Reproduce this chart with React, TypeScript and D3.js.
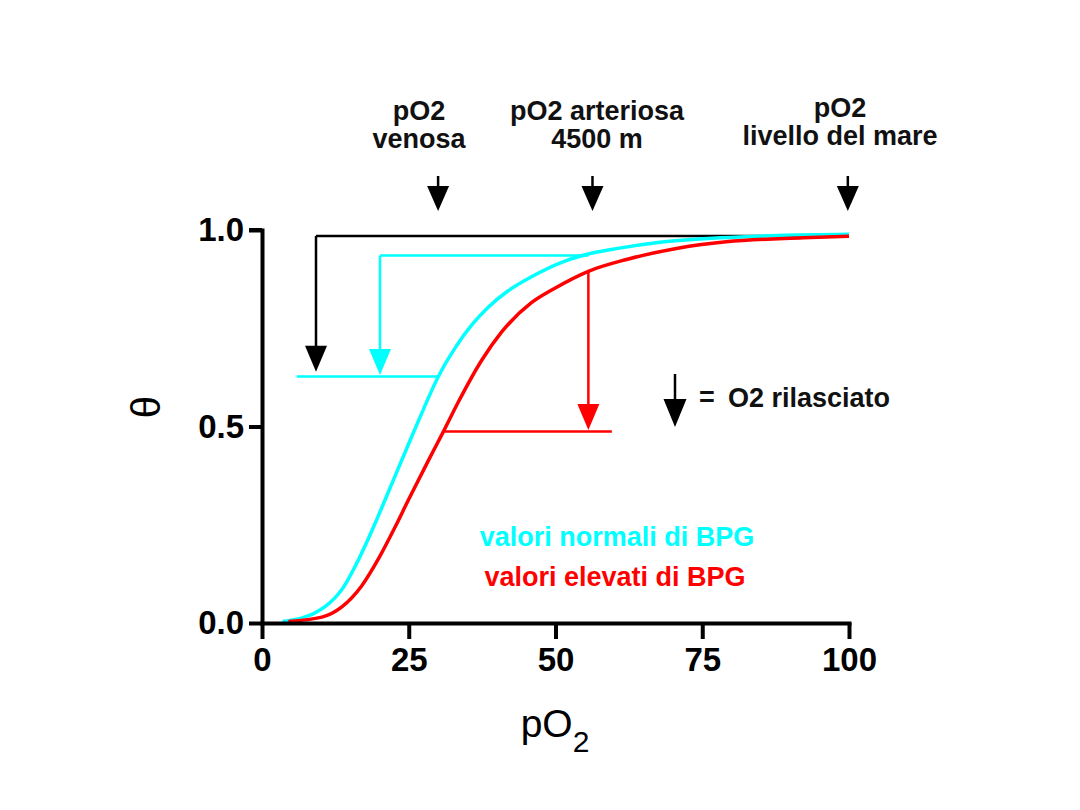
import React, { useRef, useEffect } from 'react';
import * as d3 from 'd3';

// curva di saturazione, valori normali di BPG (ciano)
const normPO2 = [3.5, 6.8, 8.8, 10.8, 13.6, 16.5, 18.7, 21.6, 23.8, 26.7, 30.0, 32.9, 35.7, 38.5, 42.0, 45.9, 51.6, 55.6, 60.1, 67.8, 78, 88, 100];
const normTheta = [0.004, 0.013, 0.024, 0.042, 0.085, 0.163, 0.234, 0.336, 0.414, 0.516, 0.626, 0.7, 0.758, 0.803, 0.846, 0.881, 0.921, 0.939, 0.952, 0.969, 0.98, 0.986, 0.989];

// valori elevati di BPG (rosso)
const highPO2 = [4.5, 10.2, 13.6, 17.0, 19.9, 22.7, 25.0, 28.4, 30.9, 33.4, 37.4, 40.8, 45.9, 49.9, 55.6, 62.1, 70.6, 79.1, 92.2, 100];
const highTheta = [0.004, 0.015, 0.041, 0.095, 0.165, 0.245, 0.315, 0.415, 0.487, 0.561, 0.668, 0.74, 0.815, 0.852, 0.895, 0.925, 0.953, 0.97, 0.98, 0.984];

const xTicks = [0, 25, 50, 75, 100];
const yTicks = [0, 0.5, 1.0];

// frecce in alto: posizione pO2 ed etichette
const topArrowPO2 = [30, 56.3, 99.8];
const topLabels = [
  ['pO2', 'venosa'],
  ['pO2 arteriosa', '4500 m'],
  ['pO2', 'livello del mare'],
];

// frecce O2 rilasciato: [pO2, theta inizio, theta punta]
const blackArrow = [9.2, 0.985, 0.639];
const cyanArrow = [20.1, 0.935, 0.631];
const redArrow = [55.6, 0.895, 0.491];

// linee orizzontali: [pO2 da, pO2 a, theta]
const blackTop = [9.2, 99.8, 0.985];
const cyanTop = [20.1, 55.6, 0.935];
const cyanLow = [5.9, 30.0, 0.627];
const redLow = [30.9, 59.6, 0.487];

const legendLabels = ['valori normali di BPG', 'valori elevati di BPG'];

const FONT = '"Liberation Sans", Arial, sans-serif';
const CYAN = '#00FFFF';
const RED = '#FF0000';

function drawChart(svg: d3.Selection<SVGSVGElement, unknown, null, undefined>) {
  svg.selectAll('*').remove();

  const x = d3.scaleLinear().domain([0, 100]).range([262, 849]);
  const y = d3.scaleLinear().domain([0, 1]).range([623, 230]);

  svg.append('rect').attr('width', 1080).attr('height', 810).attr('fill', 'white');

  // triangolo della freccia con punta in (px, py)
  const head = (px: number, py: number, w: number, h: number) =>
    `M${px - w / 2},${py - h} L${px + w / 2},${py - h} L${px},${py} Z`;

  const arrow = (a: number[], color: string) => {
    const px = x(a[0]);
    const tip = y(a[2]);
    svg.append('line')
      .attr('x1', px).attr('x2', px)
      .attr('y1', y(a[1])).attr('y2', tip - 10)
      .attr('stroke', color).attr('stroke-width', 2.5);
    svg.append('path').attr('d', head(px, tip, 22, 26)).attr('fill', color);
  };

  const hline = (h: number[], color: string) => {
    svg.append('line')
      .attr('x1', x(h[0])).attr('x2', x(h[1]))
      .attr('y1', y(h[2])).attr('y2', y(h[2]))
      .attr('stroke', color).attr('stroke-width', 2.5);
  };

  hline(blackTop, 'black');
  hline(cyanTop, CYAN);
  hline(cyanLow, CYAN);
  hline(redLow, RED);

  // curve
  const line = d3.line<[number, number]>()
    .x(d => x(d[0]))
    .y(d => y(d[1]))
    .curve(d3.curveMonotoneX);

  const normData = normPO2.map((p, i) => [p, normTheta[i]] as [number, number]);
  const highData = highPO2.map((p, i) => [p, highTheta[i]] as [number, number]);

  svg.append('path').attr('d', line(normData)).attr('fill', 'none')
    .attr('stroke', CYAN).attr('stroke-width', 3.5);
  svg.append('path').attr('d', line(highData)).attr('fill', 'none')
    .attr('stroke', RED).attr('stroke-width', 3.5);

  arrow(blackArrow, 'black');
  arrow(cyanArrow, CYAN);
  arrow(redArrow, RED);

  // assi
  const xAxis = d3.axisBottom(x).tickValues(xTicks).tickSize(16).tickSizeOuter(0).tickPadding(9)
    .tickFormat(d => `${d}`);
  const yAxis = d3.axisLeft(y).tickValues(yTicks).tickSize(13).tickSizeOuter(0).tickPadding(5)
    .tickFormat(d3.format('.1f'));

  const gx = svg.append('g').attr('transform', `translate(0, ${y(0)})`).call(xAxis);
  const gy = svg.append('g').attr('transform', `translate(${x(0)}, 0)`).call(yAxis);

  [gx, gy].forEach(g => {
    g.select('.domain').attr('stroke-width', 4).attr('stroke-linecap', 'square');
    g.selectAll('.tick line').attr('stroke-width', 4);
    g.selectAll('.tick text')
      .attr('font-family', FONT)
      .attr('font-size', 33)
      .attr('font-weight', 'bold')
      .attr('fill', 'black');
  });
  // angolo in alto dell'asse y
  gy.append('line').attr('x1', -13).attr('x2', 0).attr('y1', y(1)).attr('y2', y(1))
    .attr('stroke', 'black').attr('stroke-width', 4);

  // titolo asse x
  const xt = svg.append('text')
    .attr('x', 555).attr('y', 737)
    .attr('text-anchor', 'middle')
    .attr('font-family', FONT)
    .attr('font-size', 39)
    .attr('fill', 'black');
  xt.append('tspan').text('pO');
  xt.append('tspan').attr('font-size', 30).attr('dy', 15).text('2');

  // titolo asse y
  svg.append('text')
    .attr('transform', 'translate(146, 407) rotate(-90)')
    .attr('text-anchor', 'middle')
    .attr('dominant-baseline', 'central')
    .attr('font-family', FONT)
    .attr('font-size', 40)
    .attr('fill', 'black')
    .text('θ');

  // frecce ed etichette in alto
  const labelCx = [419, 597, 840];
  const labelY = [[120, 148], [120, 148], [117, 145]];
  topArrowPO2.forEach((p, i) => {
    const px = x(p);
    svg.append('line').attr('x1', px).attr('x2', px).attr('y1', 176).attr('y2', 195)
      .attr('stroke', 'black').attr('stroke-width', 2.5);
    svg.append('path').attr('d', head(px, 211, 22, 25)).attr('fill', 'black');
    topLabels[i].forEach((t, j) => {
      svg.append('text')
        .attr('x', labelCx[i]).attr('y', labelY[i][j])
        .attr('text-anchor', 'middle')
        .attr('font-family', FONT)
        .attr('font-size', 27)
        .attr('font-weight', 'bold')
        .attr('fill', '#111')
        .text(t);
    });
  });

  // legenda freccia
  svg.append('line').attr('x1', 675).attr('x2', 675).attr('y1', 374).attr('y2', 410)
    .attr('stroke', 'black').attr('stroke-width', 2.5);
  svg.append('path').attr('d', head(675, 427, 23, 28)).attr('fill', 'black');
  svg.append('text').attr('x', 699).attr('y', 406)
    .attr('font-family', FONT).attr('font-size', 27).attr('font-weight', 'bold')
    .attr('fill', '#111').text('=');
  svg.append('text').attr('x', 728).attr('y', 407)
    .attr('font-family', FONT).attr('font-size', 27).attr('font-weight', 'bold')
    .attr('fill', '#111').text('O2 rilasciato');

  // legenda curve
  svg.append('text').attr('x', 617).attr('y', 546).attr('text-anchor', 'middle')
    .attr('font-family', FONT).attr('font-size', 27).attr('font-weight', 'bold')
    .attr('fill', CYAN).text(legendLabels[0]);
  svg.append('text').attr('x', 615).attr('y', 586).attr('text-anchor', 'middle')
    .attr('font-family', FONT).attr('font-size', 27).attr('font-weight', 'bold')
    .attr('fill', RED).text(legendLabels[1]);
}

export default function App() {
  const ref = useRef<SVGSVGElement>(null);

  useEffect(() => {
    if (ref.current) {
      drawChart(d3.select(ref.current));
    }
  }, []);

  return (
    <svg
      ref={ref}
      width={1080}
      height={810}
      style={{ position: 'absolute', left: 0, top: 0 }}
    />
  );
}
